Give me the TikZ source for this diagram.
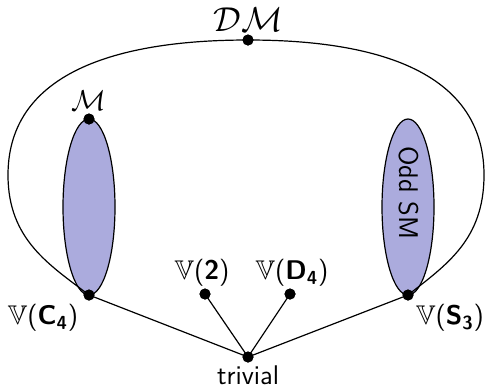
\documentclass[tikz,border=0pt]{standalone}
\usepackage{amsmath}
\usepackage{amssymb}
\usepackage{fontspec}
\DeclareFontFamily{U}{msb}{}
\DeclareFontShape{U}{msb}{m}{n}{<-> msbm10}{}
\definecolor{blobfill}{RGB}{171,171,221}
\tikzset{
  dot/.style={circle,fill=black,inner sep=0pt,minimum size=5.5pt},
  lbl/.style={inner sep=0pt,font=\fontsize{13.5}{16}\selectfont\sffamily},
  blob/.style={draw=black,fill=blobfill,line width=0.6pt},
}
\begin{document}
\begin{tikzpicture}[x=0.5pt,y=-0.5pt,line width=0.6pt]
\useasboundingbox (0,0) rectangle (485,388);
% ellipses
\draw[blob] (89,207) ellipse [x radius=26, y radius=88];
\draw[blob] (408,207) ellipse [x radius=26, y radius=88];
\node[lbl,rotate=-90] (odd) at (409,193) {Odd SM};
% dots
\node[dot] (dm) at (248,40) {};
\node[dot] (m) at (89,119) {};
\node[dot] (c4) at (89,295) {};
\node[dot] (s3) at (408,295) {};
\node[dot] (v2) at (205,294) {};
\node[dot] (d4) at (290,294) {};
\node[dot] (tr) at (248,357) {};
% outer curve
\draw (dm.center) .. controls (150,40) and (8,58) .. (8,175)
      .. controls (8,240) and (50,265) .. (c4.center);
\draw (dm.center) .. controls (346,40) and (484,58) .. (484,175)
      .. controls (484,240) and (446,265) .. (s3.center);
% connectors
\draw (tr.center) -- (c4.center);
\draw (tr.center) -- (s3.center);
\draw (tr.center) -- (v2.center);
\draw (tr.center) -- (d4.center);
% redraw dots on top
\foreach \n in {dm,m,c4,s3,v2,d4,tr} \fill (\n) circle (2.75pt);
% labels
\node[lbl,font=\fontsize{16}{18}\selectfont] (ldm) at (248,20) {$\mathcal{DM}$};
\node[lbl,font=\fontsize{14.5}{17}\selectfont] (lm) at (89,101) {$\mathcal{M}$};
\node[lbl] (lc4) at (43,318) {$\mathbb{V}$(\textbf{C}$_{\textbf{4}}$)};
\node[lbl] (ls3) at (450,318) {$\mathbb{V}$(\textbf{S}$_{\textbf{3}}$)};
\node[lbl] (lv2) at (202,273) {$\mathbb{V}$(\textbf{2})};
\node[lbl] (ld4) at (292,273) {$\mathbb{V}$(\textbf{D}$_{\textbf{4}}$)};
\node[lbl,anchor=base] (ltr) at (248,384.5) {trivial};
\end{tikzpicture}
\end{document}
